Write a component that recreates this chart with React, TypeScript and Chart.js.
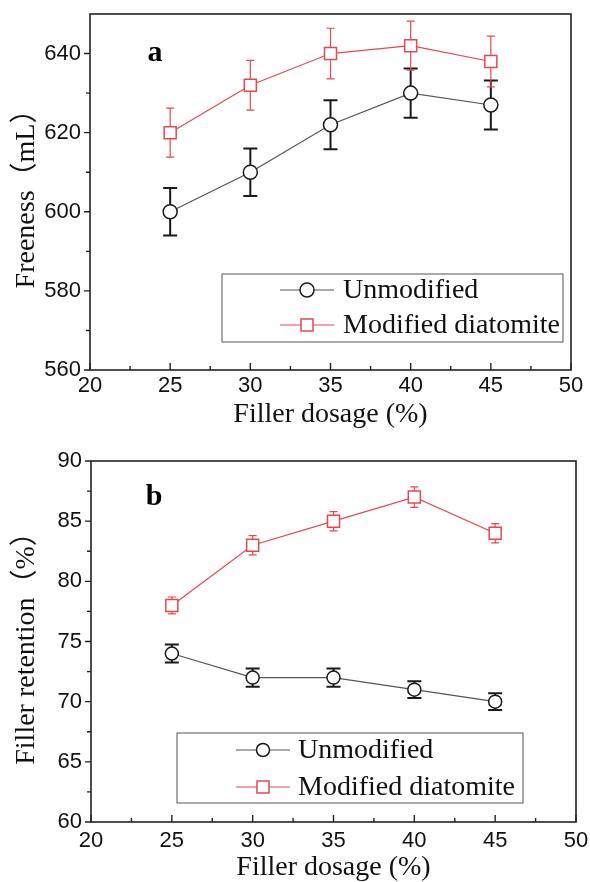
import React, { useEffect, useRef } from "react";
import { Chart, registerables } from "chart.js";
Chart.register(...registerables);

// ---- data ----
const dosage = [25, 30, 35, 40, 45];

const freenessUnmod = [600, 610, 622, 630, 627];
const freenessUnmodErr = [6, 6, 6.2, 6.2, 6.2];
const freenessMod = [620, 632, 640, 642, 638];
const freenessModErr = [6.2, 6.3, 6.4, 6.2, 6.4];

const retentionUnmod = [74, 72, 72, 71, 70];
const retentionUnmodErr = [0.75, 0.75, 0.75, 0.7, 0.7];
const retentionMod = [78, 83, 85, 87, 84];
const retentionModErr = [0.7, 0.8, 0.8, 0.85, 0.8];

const xTicks = [20, 25, 30, 35, 40, 45, 50];
const xMinorTicks = [22.5, 27.5, 32.5, 37.5, 42.5, 47.5];
const yTicksA = [560, 580, 600, 620, 640];
const yMinorTicksA = [570, 590, 610, 630];
const yTicksB = [60, 65, 70, 75, 80, 85, 90];
const yMinorTicksB = [62.5, 67.5, 72.5, 77.5, 82.5, 87.5];

const seriesLabels = ["Unmodified", "Modified diatomite"];

const RED = "#e8474f";
const BLACK = "#1a1a1a";
const SERIF = "'Liberation Serif', 'Times New Roman', 'Noto Sans CJK SC', serif";
const SANS = "'Liberation Sans', Arial, sans-serif";

const errorBarPlugin = {
  id: "errorBars",
  beforeDatasetsDraw(chart: any) {
    const { ctx } = chart;
    const xs = chart.scales.x;
    const ys = chart.scales.y;
    chart.data.datasets.forEach((ds: any) => {
      const errs = ds.errors;
      if (!errs) return;
      ctx.save();
      ctx.strokeStyle = ds.errorColor;
      ctx.lineWidth = ds.errorWidth;
      ds.data.forEach((p: any, j: number) => {
        const x = xs.getPixelForValue(p.x);
        const yt = ys.getPixelForValue(p.y + errs[j]);
        const yb = ys.getPixelForValue(p.y - errs[j]);
        const c = ds.capHalf;
        ctx.beginPath();
        ctx.moveTo(x, yt);
        ctx.lineTo(x, yb);
        ctx.moveTo(x - c, yt);
        ctx.lineTo(x + c, yt);
        ctx.moveTo(x - c, yb);
        ctx.lineTo(x + c, yb);
        ctx.stroke();
      });
      ctx.restore();
    });
  },
};

const decorPlugin = {
  id: "decor",
  afterDraw(chart: any, _args: any, opts: any) {
    const { ctx, chartArea } = chart;
    const xs = chart.scales.x;
    const ys = chart.scales.y;
    ctx.save();
    // frame
    ctx.strokeStyle = "#222";
    ctx.lineWidth = 1.6;
    ctx.strokeRect(chartArea.left, chartArea.top, chartArea.right - chartArea.left, chartArea.bottom - chartArea.top);
    // ticks
    ctx.lineWidth = 1.4;
    ctx.beginPath();
    opts.yMajor.forEach((v: number) => {
      const y = ys.getPixelForValue(v);
      ctx.moveTo(chartArea.left, y);
      ctx.lineTo(chartArea.left - 6, y);
    });
    opts.yMinor.forEach((v: number) => {
      const y = ys.getPixelForValue(v);
      ctx.moveTo(chartArea.left, y);
      ctx.lineTo(chartArea.left - 4, y);
    });
    opts.xMajor.forEach((v: number) => {
      const x = xs.getPixelForValue(v);
      ctx.moveTo(x, chartArea.bottom);
      ctx.lineTo(x, chartArea.bottom - 7);
    });
    opts.xMinor.forEach((v: number) => {
      const x = xs.getPixelForValue(v);
      ctx.moveTo(x, chartArea.bottom);
      ctx.lineTo(x, chartArea.bottom - 4);
    });
    ctx.stroke();

    // panel letter
    ctx.fillStyle = "#000";
    ctx.font = `bold 30px ${SERIF}`;
    ctx.textAlign = "center";
    ctx.textBaseline = "middle";
    ctx.fillText(opts.letter, opts.letterX, opts.letterY);

    // legend
    const lg = opts.legend;
    ctx.strokeStyle = "#555";
    ctx.lineWidth = 1;
    ctx.strokeRect(lg.box[0], lg.box[1], lg.box[2] - lg.box[0], lg.box[3] - lg.box[1]);
    chart.data.datasets.forEach((ds: any, i: number) => {
      const y = lg.rows[i];
      ctx.strokeStyle = ds.borderColor;
      ctx.lineWidth = ds.borderWidth;
      ctx.beginPath();
      ctx.moveTo(lg.lineX[0], y);
      ctx.lineTo(lg.lineX[1], y);
      ctx.stroke();
      ctx.fillStyle = "#fff";
      ctx.strokeStyle = ds.pointBorderColor;
      ctx.lineWidth = ds.pointBorderWidth;
      const mx = (lg.lineX[0] + lg.lineX[1]) / 2;
      const r = ds.pointRadius;
      ctx.beginPath();
      if (ds.pointStyle === "rect") {
        const s = r * Math.SQRT1_2;
        ctx.rect(mx - s, y - s, 2 * s, 2 * s);
      } else {
        ctx.arc(mx, y, r, 0, Math.PI * 2);
      }
      ctx.fill();
      ctx.stroke();
      ctx.fillStyle = "#111";
      ctx.font = `28px ${SERIF}`;
      ctx.textAlign = "left";
      ctx.textBaseline = "middle";
      ctx.fillText(ds.label, lg.textX, y + 1);
    });
    ctx.restore();
  },
};

type PanelProps = {
  width: number;
  height: number;
  unmod: number[];
  unmodErr: number[];
  mod: number[];
  modErr: number[];
  yMin: number;
  yMax: number;
  yTicks: number[];
  yMinor: number[];
  yTitle: string;
  letter: string;
  letterX: number;
  letterY: number;
  padding: any;
  yWidth: number;
  xHeight: number;
  circleR: number;
  rectR: number;
  xTickPad: number;
  xTitlePad: number;
  legend: any;
};

function zeroPad(s: any) {
  s.paddingTop = 0;
  s.paddingBottom = 0;
  s.paddingLeft = 0;
  s.paddingRight = 0;
}

function Panel(p: PanelProps) {
  const ref = useRef<HTMLCanvasElement | null>(null);
  useEffect(() => {
    if (!ref.current) return;
    const chart = new Chart(ref.current, {
      type: "line",
      data: {
        datasets: [
          {
            label: seriesLabels[0],
            data: dosage.map((x, i) => ({ x, y: p.unmod[i] })),
            borderColor: "#555",
            borderWidth: 1.2,
            pointStyle: "circle",
            pointRadius: p.circleR,
            pointBorderColor: BLACK,
            pointBackgroundColor: "#fff",
            pointBorderWidth: 1.5,
            errors: p.unmodErr,
            errorColor: BLACK,
            errorWidth: 2,
            capHalf: 7,
          } as any,
          {
            label: seriesLabels[1],
            data: dosage.map((x, i) => ({ x, y: p.mod[i] })),
            borderColor: RED,
            borderWidth: 1.2,
            pointStyle: "rect",
            pointRadius: p.rectR,
            pointBorderColor: RED,
            pointBackgroundColor: "#fff",
            pointBorderWidth: 1.5,
            errors: p.modErr,
            errorColor: RED,
            errorWidth: 1.2,
            capHalf: 4,
          } as any,
        ],
      },
      options: {
        animation: false,
        responsive: false,
        devicePixelRatio: 1,
        layout: { padding: p.padding },
        plugins: {
          legend: { display: false },
          tooltip: { enabled: false },
          decor: {
            yMajor: p.yTicks,
            yMinor: p.yMinor,
            xMajor: xTicks,
            xMinor: xMinorTicks,
            letter: p.letter,
            letterX: p.letterX,
            letterY: p.letterY,
            legend: p.legend,
          },
        } as any,
        scales: {
          x: {
            type: "linear",
            min: 20,
            max: 50,
            afterBuildTicks: (s: any) => {
              s.ticks = xTicks.map((v) => ({ value: v }));
            },
            afterFit: (s: any) => {
              s.height = p.xHeight;
              zeroPad(s);
            },
            grid: { display: false, drawTicks: false },
            border: { display: false },
            ticks: {
              color: "#111",
              font: { family: SANS, size: 22 },
              padding: p.xTickPad,
              maxRotation: 0,
              autoSkip: false,
            },
            title: {
              display: true,
              text: "Filler dosage (%)",
              color: "#111",
              font: { family: SERIF, size: 28, lineHeight: 1 },
              padding: { top: 0, bottom: p.xTitlePad },
            },
          },
          y: {
            type: "linear",
            min: p.yMin,
            max: p.yMax,
            afterBuildTicks: (s: any) => {
              s.ticks = p.yTicks.map((v) => ({ value: v }));
            },
            afterFit: (s: any) => {
              s.width = p.yWidth;
              zeroPad(s);
            },
            grid: { display: false, drawTicks: false },
            border: { display: false },
            ticks: {
              color: "#111",
              font: { family: SANS, size: 22 },
              padding: 9,
              autoSkip: false,
            },
            title: {
              display: true,
              text: p.yTitle,
              color: "#111",
              font: { family: SERIF, size: 28, lineHeight: 1 },
              padding: { top: 13, bottom: 0 },
            },
          },
        },
      },
      plugins: [errorBarPlugin, decorPlugin],
    } as any);
    return () => chart.destroy();
  }, []);
  return <canvas ref={ref} width={p.width} height={p.height} style={{ display: "block" }} />;
}

export default function App() {
  return (
    <div style={{ position: "absolute", left: 0, top: 0, width: 590, height: 882, background: "#fff" }}>
      <Panel
        width={590}
        height={440}
        unmod={freenessUnmod}
        unmodErr={freenessUnmodErr}
        mod={freenessMod}
        modErr={freenessModErr}
        yMin={560}
        yMax={650}
        yTicks={yTicksA}
        yMinor={yMinorTicksA}
        yTitle="Freeness（mL）"
        letter="a"
        letterX={155}
        letterY={53}
        padding={{ left: 0, top: 14, right: 19, bottom: 0 }}
        yWidth={90}
        xHeight={70}
        circleR={7}
        rectR={8.5}
        xTickPad={3}
        xTitlePad={11}
        legend={{ box: [222, 274, 563, 342], rows: [290, 325], lineX: [280, 334], textX: 343 }}
      />
      <Panel
        width={590}
        height={442}
        unmod={retentionUnmod}
        unmodErr={retentionUnmodErr}
        mod={retentionMod}
        modErr={retentionModErr}
        yMin={60}
        yMax={90}
        yTicks={yTicksB}
        yMinor={yMinorTicksB}
        yTitle="Filler retention（%）"
        letter="b"
        letterX={154}
        letterY={57}
        padding={{ left: 0, top: 21, right: 14, bottom: 0 }}
        yWidth={91}
        xHeight={60}
        circleR={6.5}
        rectR={8.5}
        xTickPad={6}
        xTitlePad={0}
        legend={{ box: [177, 293, 523, 363], rows: [310, 347], lineX: [236, 290], textX: 298 }}
      />
    </div>
  );
}
